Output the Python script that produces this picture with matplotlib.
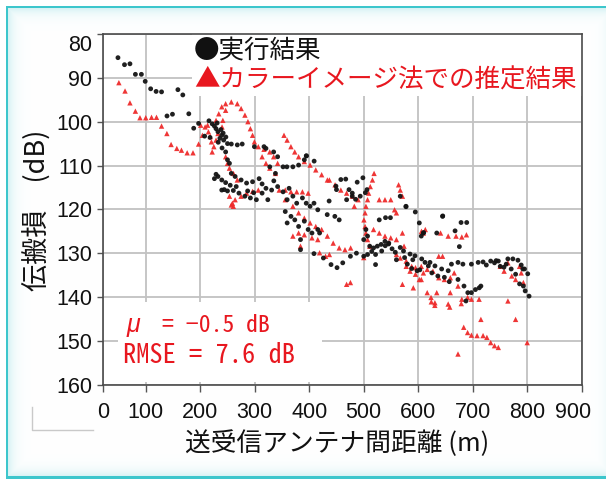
import numpy as np
import matplotlib
matplotlib.use("Agg")
import matplotlib.pyplot as plt
from matplotlib.patches import Rectangle
from matplotlib import font_manager
import matplotlib.transforms as mtransforms

# ---------------------------------------------------------------- data
# measured path loss (black dots): distance [m], loss [dB]
meas_x = [49, 61, 71, 81, 92, 99, 109, 119, 129, 159, 168, 139, 149, 179, 188, 197, 216, 222,
          229, 232.5, 239.5, 236, 243, 250, 208, 218, 257, 268, 277, 246.6, 250, 253.6,
          226, 231, 238, 242, 233, 240, 247,
          232.5, 239.5, 246.6, 257, 264, 275, 285, 296, 313.5, 320.6, 331, 239.5, 250, 260.7, 271,
          282, 292, 303, 313.5, 324, 299.4, 317, 320.6, 334.7, 342, 352, 327.6, 338, 359, 370,
          380.5, 394.5, 391, 244, 255, 266, 287, 298, 308, 335, 226, 229,
          342, 352, 363, 370, 359.5, 377, 387.5, 394.5, 401.6, 408.7, 415.7, 356, 366.5, 359.5,
          373.5, 380.5, 391, 398, 405, 415.7, 419, 384, 384, 408.7, 433,
          426, 440, 451, 461.5, 475.6, 486.6, 455, 447, 468.6, 479, 493.6,
          504, 507, 500, 511, 518, 525, 532, 539, 546, 514.7, 521.7, 507, 500, 521.7, 528.5, 567,
          577.5, 602, 605.6, 609.5, 634, 644.7,
          684, 691, 687.6, 697.6, 705, 712, 715, 673, 778.7, 786, 793, 796.3, 803.4, 747, 750.5,
          733, 740,
          395, 409, 458, 467, 488, 498.5, 450, 449, 473, 479, 485, 506, 503, 436.5, 540, 549,
          577.6, 594.6, 645, 678.6, 689, 675.5, 667.6, 610, 545.6, 539.5, 533, 552, 558, 567, 573,
          585, 594, 606.4, 612.5, 618.6, 621.6, 630.7, 643, 655, 661, 673, 682, 697.6, 710, 719,
          725, 743, 764.5, 773.7, 783, 789, 792, 761.5, 757.3, 770.6, 795, 801,
          575, 580, 588, 598, 590, 603, 560, 625, 636, 648, 657]
meas_y = [85.4, 87, 86.8, 89.2, 89.2, 90.8, 92.5, 93.1, 93.2, 92.7, 93.9, 98.7, 98.3, 98.2, 101.5,
          100.4, 99.8, 100.5,
          101.6, 102.3, 103.1, 103.8, 104.2, 105, 103.3, 103.6, 105.1, 105.3, 105.1, 106.9, 108.7,
          109.5, 101, 100.3, 101.8, 102.6, 104.7, 106, 103.5,
          112.5, 113.3, 113.9, 111.8, 112.5, 113.3, 114, 113.7, 114.2, 115.2, 115.6, 115.6, 115.8,
          115.7, 116.3, 117, 117.4, 117.8, 116.3, 117.8, 105.7, 105.7, 106.1, 106.9, 108, 110.3,
          110.3, 111.8, 110.3, 110.3, 109.9, 107.8, 108.7, 115.5, 114.5, 114.8, 115.8, 116.2, 113,
          113.5, 113, 112,
          114.8, 116, 115.2, 117, 117.8, 118.6, 117.4, 118.6, 119.3, 118.6, 120.1, 120.5, 121.6,
          123.1, 122.4, 123.9, 122.7, 124.6, 125.4, 124.6, 125.4, 129.2, 126.9, 130.1, 121.2,
          131.1, 132.6, 133.3, 132.2, 130.7, 130, 122.4, 121.6, 117.8, 116.3, 117,
          124.6, 126.1, 126.9, 128.4, 128.8, 128.4, 128, 127.3, 127.7, 129.6, 130.3, 130.3, 130.7,
          132.6, 122.4, 117, 119.3, 123.1, 126.1, 125.4, 125.4, 121.6,
          137.5, 139, 140.9, 139, 138.3, 137.9, 137.5, 136, 134.8, 137, 137.5, 138.6, 139.8, 131.8,
          133, 131.8, 132.2,
          107.8, 109, 113.2, 113.1, 113.8, 112.8, 115.5, 114.7, 115.5, 117, 117.7, 115.5, 116.2,
          118.1, 121.9, 121.9, 119.4, 120.6, 121.5, 123, 123, 128.5, 124.9, 125.3, 127.9, 128.3,
          129.5, 129, 129.8, 128.7, 129.5, 130.2, 130.6, 131.3, 132.1, 132.9, 132.1, 132.9, 133.6,
          134, 132.5, 132.1, 132.5, 132.5, 132.1, 132, 132.7, 131.7, 131.3, 131.3, 131.6, 132.7,
          133.6, 132.5, 133.2, 133.6, 133.6, 134.7,
          131, 132.5, 133.5, 134, 131.5, 133.8, 131.5, 134.5, 135.2, 135.5, 136.5]

# colour-image method estimate (red triangles)
est_x = [50.7, 62, 71, 81, 89.4, 100, 110.6, 119.7, 129, 138.8, 146.5, 157, 165.5, 176, 186.7, 197,
         204, 209, 200.8,
         229, 234, 239.5, 246.6, 257, 268, 275, 282, 287.5, 292, 296, 299.4, 246.6, 241.5, 240,
         232.5, 229, 225, 221.9,
         215, 218.4, 220.5, 213.5,
         246.6, 250, 253.6, 261, 268,
         253.6, 259, 264, 275, 285, 296, 306.5, 257, 260.7,
         306.5, 317, 327.6, 334.7, 342, 313.5, 320.6, 327.6, 338,
         353.7, 359.4, 366.4, 373.4, 380.5, 391, 401.6, 412, 422.8, 433.3,
         345, 356, 366.4, 377, 387.5, 398, 356, 370, 380.5, 391, 401.6, 412, 422.8, 433.3, 444, 455,
         465.6, 476, 384, 370, 380.5, 391, 405, 415.7,
         437, 447.4, 458, 468.6, 479, 489.7, 482.7,
         519, 516, 512, 509, 507, 504, 502.5, 500.4, 502.5, 504, 507, 511, 500,
         528.5, 539, 549.6, 518, 528.5, 539, 549.6, 560,
         564, 567, 571, 556.6, 560, 571, 574,
         606, 609.5, 613,
         641, 655, 669.4, 680, 688.5,
         578, 585, 595, 602, 609.5, 605.6,
         571, 591,
         616.5, 623.5, 630.6, 634, 655, 658.8,
         683.5, 690.6, 697.6, 708, 719, 726, 733, 740, 747,
         715, 778.7, 800, 673, 468.6, 475.6,
         673, 680, 690.6, 697.6, 711.7,
         750.5, 757.6, 764.6, 771.7, 778.7, 786, 793, 789, 764.6,
         560, 567, 578, 588, 595, 605.6, 616.5, 627, 637.7, 648, 659, 666,
         637.7, 644.7,
         419, 430, 437,
         657.8, 679, 630.5, 624]
est_y = [91.1, 93, 95.7, 97.6, 99.1, 99.1, 99, 99, 101, 102.7, 105.2, 106.1, 106.5, 107.1, 107.1,
         105.1, 103.1, 101.2, 100.8,
         99.7, 98.2, 96.6, 95.9, 95.5, 95.9, 97, 98.5, 100, 101.6, 103.1, 104.6, 97.4, 99.7, 101.2,
         102.7, 104.2, 105.7, 106.9,
         102.3, 103.4, 104.6, 100.8,
         108, 109.5, 110.6, 111.8, 113.3,
         117, 118.6, 117.8, 117, 116.3, 115.9, 115.6, 119, 119.3,
         105.7, 106.3, 106.9, 108, 109.5, 108, 109.5, 110.6, 111.8,
         103.1, 104.2, 105.7, 106.9, 108, 109.1, 109.9, 111, 112.1, 113.3,
         115.6, 115.6, 116, 116, 116, 116.3, 117.8, 119.3, 120.8, 122, 123.1, 123.9, 124.6, 126.1,
         127.7, 128.8, 129.2, 128.8, 128.4, 126.1, 125.4, 125.8, 126.5, 126.9,
         113.3, 114.4, 115.6, 116.3, 117, 117.8, 119.3,
         111.8, 113.3, 114.8, 116.3, 117.8, 119.3, 120.8, 122.4, 123.9, 125.4, 126.9, 128.4, 131,
         117.8, 117.8, 117.8, 124.6, 125.4, 126.1, 126.5, 126.9,
         114.4, 115.6, 117, 120.1, 120.8, 125.4, 128.4,
         125, 125.4, 124.6,
         125.4, 126.1, 126.1, 126.3, 125.8,
         133, 134.1, 134.8, 136, 134.5, 136,
         137.1, 137.9,
         139, 140.1, 141.3, 139, 141.6, 139,
         146.9, 148.1, 148.7, 148.8, 148.8, 149.2, 150.4, 151.1, 151.5,
         145.1, 145.1, 150.4, 153, 137.1, 136.7,
         137.5, 140.5, 140.1, 140.5, 140.5,
         133, 134.1, 132.2, 135.2, 136, 133, 136.7, 134.5, 140.9,
         130.3, 131.1, 131.8, 133, 133.3, 133, 133.7, 134.1, 135.6, 136, 135.6, 134.5,
         130.7, 130.7,
         129.9, 130.7, 130.3,
         142.3, 141.5, 141.9, 141.1]

x_tick_vals = [100, 200, 300, 400, 500, 600, 700, 800, 900]
x_axis_start = 21          # visible left end of the distance axis, labelled "0"
y_tick_vals = [80, 90, 100, 110, 120, 130, 140, 150, 160]
mu_db = -0.5
rmse_db = 7.6

legend_meas = "●実行結果"
legend_est = "▲カラーイメージ法での推定結果"
x_label = "送受信アンテナ間距離 (m)"
y_label = "伝搬損　(dB)"

# ---------------------------------------------------------------- fonts
def pick_font(*names):
    for n in names:
        try:
            font_manager.findfont(n, fallback_to_default=False)
            return n
        except ValueError:
            pass
    return "DejaVu Sans"

JP = ["Noto Sans CJK JP", "DejaVu Sans"]
NUM = pick_font("Liberation Sans", "Arial")
MONO = pick_font("Noto Sans Mono CJK JP", "Liberation Sans Narrow", "Liberation Mono")

RED = "#e8171f"
TEAL = np.array([0.24, 0.78, 0.80])
GLOW = np.array([0.80, 0.935, 0.945])

W, H, DPI = 606, 480, 100
fig = plt.figure(figsize=(W / DPI, H / DPI), dpi=DPI)
fig.patch.set_facecolor("white")

# ---------------------------------------------------------------- panel frame with soft inner glow
yy, xx = np.mgrid[0:H, 0:W].astype(float)
left, top, right, bottom = 6.5, 6.5, 614.0, 477.0
d = np.minimum.reduce([xx - left, yy - top, right - xx, bottom - yy])
g = np.where(d >= 0, np.exp(-np.clip(d, 0, None) / 6.0), 0.0)
img = np.ones((H, W, 3)) * (1 - g[..., None]) + GLOW * g[..., None]
edge = (np.abs(d) < 1.3)
img[edge] = TEAL
bg = fig.add_axes([0, 0, 1, 1], zorder=-5)
bg.imshow(img, extent=(0, W, H, 0), interpolation="bilinear", aspect="auto")
bg.set_xlim(0, W)
bg.set_ylim(H, 0)
bg.axis("off")
# small grey corner mark under the y axis
bg.plot([32, 32, 93], [407, 430, 430], color="#c9c9c9", lw=1.0)

# ---------------------------------------------------------------- main axes
ax_l, ax_r, ax_t, ax_b = 102.7, 581.7, 34.0, 384.7
ax = fig.add_axes([ax_l / W, 1 - ax_b / H, (ax_r - ax_l) / W, (ax_b - ax_t) / H])
ax.set_facecolor("white")
ax.set_xlim(x_axis_start, 900)
ax.set_ylim(160, 80)

ax.set_xticks([x_axis_start] + x_tick_vals)
ax.set_xticklabels(["0"] + [str(v) for v in x_tick_vals])
ax.set_yticks(y_tick_vals)
ax.set_yticklabels([str(v) for v in y_tick_vals])

ax.set_axisbelow(True)
ax.grid(True, color="#c2c2c2", lw=1.3)
for s in ax.spines.values():
    s.set_color("#4a4a4a")
    s.set_linewidth(1.2)
    s.set_zorder(3)
ax.tick_params(axis="x", direction="out", length=5, width=1.0, color="#555555",
               pad=7.5, labelsize=15.5, labelcolor="#111111")
ax.tick_params(axis="y", direction="out", length=4.5, width=1.0, color="#555555",
               pad=3, labelsize=15.5, labelcolor="#111111")
for lab in ax.get_xticklabels() + ax.get_yticklabels():
    lab.set_fontfamily(NUM)


def shift(label, dx_px, dy_px):
    label.set_transform(label.get_transform() +
                        mtransforms.ScaledTranslation(dx_px / DPI, dy_px / DPI,
                                                      fig.dpi_scale_trans))


# end labels pulled inside the frame
shift(ax.get_xticklabels()[-1], -9, 0)
shift(ax.get_yticklabels()[0], 0, -9)

# white panels behind legend and statistics
ax.add_patch(Rectangle((0.186, 0.823), 0.814, 0.177, transform=ax.transAxes,
                       facecolor="white", edgecolor="none", zorder=1))
ax.add_patch(Rectangle((0.032, 0.008), 0.426, 0.228, transform=ax.transAxes,
                       facecolor="white", edgecolor="none", zorder=1))

ax.scatter(est_x, est_y, marker="^", s=15, color="#ee2b2b", edgecolors="none",
           zorder=2, alpha=0.95)
ax.scatter(meas_x, meas_y, marker="o", s=12, color="#141414", edgecolors="none",
           zorder=2.1, alpha=0.95)

# ---------------------------------------------------------------- texts
def px(x, y):
    return x / W, 1 - y / H

fig.text(*px(194, 51), legend_meas, family=JP, fontsize=18.4, color="#111111",
         ha="left", va="center")
fig.text(*px(194, 81), legend_est, family=JP, fontsize=18.4, color=RED,
         ha="left", va="center")

fig.text(*px(127, 332), "μ", family=[NUM, "DejaVu Sans"], fontsize=18,
         style="italic", color=RED, ha="left", va="baseline")
fig.text(*px(162, 332), f"= −{abs(mu_db):.1f} dB", family=[MONO, "DejaVu Sans"],
         fontsize=17, color=RED, ha="left", va="baseline")
fig.text(*px(123, 363), f"RMSE = {rmse_db:.1f} dB", family=[MONO, "DejaVu Sans"],
         fontsize=19, color=RED, ha="left", va="baseline")

fig.text(*px(337, 444), x_label, family=JP, fontsize=18.5, color="#111111",
         ha="center", va="center")
fig.text(*px(38, 210), y_label, family=JP, fontsize=19.5, color="#111111",
         ha="center", va="center", rotation=90)

fig.savefig("out.png", dpi=DPI)
